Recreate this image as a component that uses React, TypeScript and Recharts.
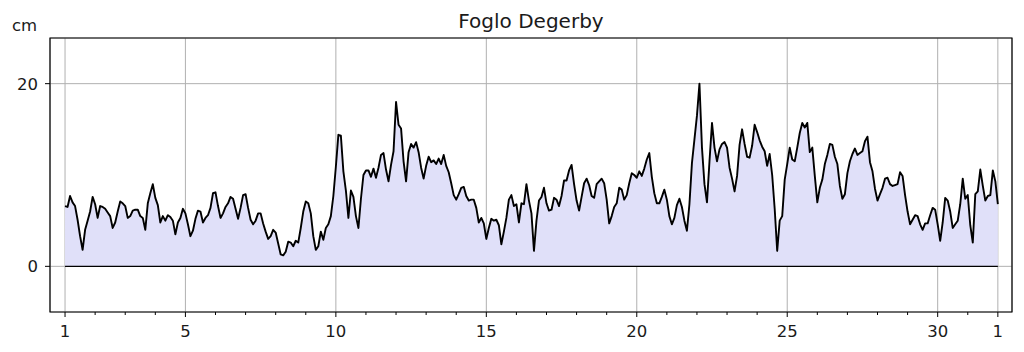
import {
  ComposedChart,
  Area,
  XAxis,
  YAxis,
  CartesianGrid,
  ReferenceLine,
  ReferenceArea,
} from 'recharts';

const title = 'Foglo Degerby';
const unitLabel = 'cm';

// water level, one reading every 2 hours starting at day 1 00:00 (one row per day)
const stepsPerDay = 12;
const firstDay = 1;
const levels = [
  6.6, 6.5, 7.7, 7.0, 6.6, 5.1, 3.3, 1.8, 4.0, 5.0, 6.0, 7.6,
  6.8, 5.3, 6.6, 6.5, 6.3, 5.9, 5.5, 4.2, 4.8, 6.0, 7.1, 6.9,
  6.6, 5.3, 5.5, 6.1, 6.2, 6.2, 5.5, 5.3, 4.0, 6.9, 8.0, 9.0,
  7.5, 6.7, 4.8, 5.5, 5.0, 5.6, 5.4, 5.0, 3.5, 4.8, 5.3, 6.3,
  5.8, 4.6, 3.3, 3.9, 5.2, 6.1, 6.0, 4.8, 5.3, 5.6, 6.4, 8.0,
  8.1, 6.6, 5.3, 5.8, 6.5, 6.9, 7.6, 7.4, 6.3, 5.2, 6.4, 7.8,
  7.9, 6.4, 5.1, 4.6, 5.0, 5.8, 5.8, 4.7, 3.8, 3.0, 3.3, 4.0,
  3.7, 2.5, 1.3, 1.2, 1.6, 2.7, 2.6, 2.2, 2.8, 2.6, 4.2, 6.0,
  7.1, 6.9, 5.8, 3.3, 1.8, 2.2, 3.8, 2.9, 4.2, 4.6, 5.5, 7.7,
  10.9, 14.4, 14.3, 10.4, 8.3, 5.3, 8.3, 7.6, 5.5, 4.2, 7.4, 10.0,
  10.5, 10.5, 9.8, 10.7, 9.7, 10.8, 12.2, 12.4, 10.6, 9.3, 11.1, 12.6,
  18.0, 15.5, 15.1, 11.5, 9.3, 12.5, 13.4, 13.0, 13.6, 12.5, 10.8, 9.6,
  11.0, 12.0, 11.4, 11.6, 11.2, 11.8, 11.2, 12.2, 11.0, 10.3, 9.1, 7.8,
  7.3, 7.9, 8.6, 8.7, 7.7, 7.2, 7.3, 7.3, 6.4, 4.8, 5.3, 4.7,
  3.0, 4.2, 5.2, 5.0, 5.1, 4.5, 2.4, 3.8, 5.3, 7.3, 7.8, 6.6,
  6.8, 4.8, 6.9, 6.8, 9.0, 7.2, 5.8, 1.7, 5.0, 7.2, 7.6, 8.6,
  6.9, 6.1, 6.2, 7.5, 7.3, 6.6, 7.7, 9.4, 9.4, 10.5, 11.1, 9.0,
  7.2, 6.1, 7.6, 9.1, 9.6, 8.9, 7.7, 7.5, 9.0, 9.3, 9.6, 9.1,
  7.3, 4.7, 5.5, 6.5, 6.9, 8.6, 8.4, 7.3, 7.8, 9.1, 10.2, 10.0,
  9.7, 10.4, 9.9, 10.7, 11.7, 12.4, 9.8, 8.0, 6.9, 6.9, 7.6, 8.4,
  7.3, 5.5, 4.6, 5.3, 6.7, 7.4, 6.5, 5.0, 3.9, 6.8, 11.3, 13.9,
  16.5, 20.0, 13.0, 9.0, 7.0, 11.5, 15.7, 13.0, 11.5, 12.8, 13.4, 13.6,
  13.0, 10.8, 9.6, 8.2, 9.9, 13.3, 15.0, 13.4, 12.0, 11.9, 13.2, 15.5,
  14.7, 13.8, 13.1, 12.6, 11.0, 12.3, 10.0, 6.3, 1.7, 5.0, 5.5, 9.5,
  11.2, 13.0, 11.7, 11.5, 13.0, 14.6, 15.7, 15.2, 15.7, 12.5, 13.0, 9.9,
  7.0, 8.6, 9.5, 11.2, 12.2, 13.4, 13.3, 12.0, 11.2, 8.8, 7.4, 7.9,
  10.2, 11.5, 12.3, 12.9, 12.2, 12.4, 12.6, 13.7, 14.2, 11.4, 10.4, 8.5,
  7.2, 7.9, 8.6, 9.6, 9.7, 9.0, 8.8, 8.9, 9.0, 10.3, 9.9, 7.8,
  6.0, 4.6, 5.1, 5.6, 5.5, 4.6, 4.0, 4.7, 4.7, 5.6, 6.4, 6.2,
  4.6, 2.8, 4.8, 7.5, 7.2, 6.0, 4.2, 4.6, 5.0, 6.8, 9.6, 7.4,
  7.8, 4.5, 2.6, 7.9, 8.2, 10.6, 8.8, 7.2, 7.7, 7.8, 10.5, 9.3,
  6.8,
];

const dayTicks = [1, 5, 10, 15, 20, 25, 30, 32];
const dayTickLabels = ['1', '5', '10', '15', '20', '25', '30', '1'];
const minorDayTicks = [
  1, 2, 3, 4, 5, 6, 7, 8, 9, 10, 11, 12, 13, 14, 15, 16,
  17, 18, 19, 20, 21, 22, 23, 24, 25, 26, 27, 28, 29, 30, 31, 32,
];
const levelTicks = [0, 20];

const dayDomain = [0.5, 32.47];
const levelDomain = [-5, 25];

const data = levels.map((level, i) => ({ day: firstDay + i / stepsPerDay, level }));

const textColor = '#1a1a1a';
const tickStyle = { fontSize: 16.5, fill: textColor, fontFamily: 'DejaVu Sans' };

// every day gets a short tick, labelled days a longer one plus the text
function DayTick(props: any) {
  const { x, y, payload } = props;
  const idx = dayTicks.indexOf(payload.value);
  const major = idx >= 0;
  return (
    <g>
      <line x1={x} x2={x} y1={y} y2={y + (major ? 5 : 3)} stroke="#000" strokeWidth={1} />
      {major && (
        <text
          x={x}
          y={y + 13}
          dy="0.71em"
          textAnchor="middle"
          fontSize={tickStyle.fontSize}
          fontFamily={tickStyle.fontFamily}
          fill={textColor}
        >
          {dayTickLabels[idx]}
        </text>
      )}
    </g>
  );
}

export default function App() {
  return (
    <div style={{ position: 'relative', width: 1016, height: 344, fontFamily: 'DejaVu Sans' }}>
      <div
        style={{
          position: 'absolute',
          left: 42,
          width: 962,
          top: 1,
          lineHeight: '24px',
          fontSize: 20,
          textAlign: 'center',
          color: textColor,
        }}
      >
        {title}
      </div>
      <div
        style={{
          position: 'absolute',
          left: 4,
          top: 8,
          lineHeight: '20px',
          fontSize: 16.5,
          color: textColor,
        }}
      >
        {unitLabel}
      </div>
      <ComposedChart
        width={1016}
        height={336}
        data={data}
        margin={{ top: 30, right: 12, bottom: 0, left: 0 }}
      >
        <CartesianGrid xAxisId="grid" stroke="#b0b0b0" strokeWidth={1} />
        <XAxis
          xAxisId="grid"
          dataKey="day"
          type="number"
          domain={dayDomain}
          ticks={dayTicks}
          interval={0}
          hide
          allowDataOverflow
        />
        <XAxis
          xAxisId="days"
          dataKey="day"
          type="number"
          domain={dayDomain}
          ticks={minorDayTicks}
          interval={0}
          height={32}
          tickSize={0}
          tickMargin={0}
          tickLine={false}
          axisLine={false}
          tick={DayTick}
          allowDataOverflow
        />
        <YAxis
          type="number"
          domain={levelDomain}
          ticks={levelTicks}
          width={42}
          tickSize={5}
          tickMargin={7}
          axisLine={false}
          tickLine={{ stroke: '#000' }}
          tick={tickStyle}
          allowDataOverflow
        />
        <Area
          xAxisId="days"
          type="linear"
          dataKey="level"
          baseValue={0}
          stroke="#000"
          strokeWidth={1.9}
          strokeLinejoin="round"
          fill="#e0e0f9"
          fillOpacity={1}
          dot={false}
          activeDot={false}
          isAnimationActive={false}
        />
        <ReferenceLine
          xAxisId="days"
          segment={[
            { x: dayTicks[0], y: 0 },
            { x: dayTicks[dayTicks.length - 1], y: 0 },
          ]}
          stroke="#000"
          strokeWidth={1.3}
        />
        <ReferenceArea
          xAxisId="days"
          x1={dayDomain[0]}
          x2={dayDomain[1]}
          y1={levelDomain[0]}
          y2={levelDomain[1]}
          fill="none"
          stroke="#000"
          strokeWidth={1.2}
        />
      </ComposedChart>
    </div>
  );
}
